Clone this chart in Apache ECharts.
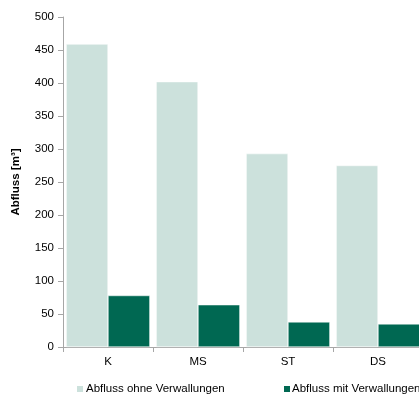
<!DOCTYPE html>
<html>
<head>
<meta charset="utf-8">
<script src="https://cdn.jsdelivr.net/npm/echarts@6/dist/echarts.min.js"></script>
<style>
  html, body { margin: 0; padding: 0; background: #fff; }
  #chart { width: 419px; height: 394px; }
</style>
</head>
<body>
<div id="chart"></div>
<script>
// Discharge per site, with and without embankments
const categories = ['K', 'MS', 'ST', 'DS'];
const ohneVerwallungen = [459, 402, 293, 275];
const mitVerwallungen = [78, 64, 38, 35];
const seriesNames = ['Abfluss ohne Verwallungen', 'Abfluss mit Verwallungen'];
const yTicks = { min: 0, max: 500, interval: 50 };

const font = 'Liberation Sans, Arial, sans-serif';
const axisGrey = '#a6a6a6';
const fs = 11.5;

const chart = echarts.init(document.getElementById('chart'), null, { renderer: 'canvas' });
chart.setOption({
  animation: false,
  textStyle: { fontFamily: font },
  grid: { left: 63, top: 17, width: 360, height: 330, containLabel: false, outerBoundsMode: 'none' },
  legend: [
    {
      data: [seriesNames[0]],
      left: 75, top: 383,
      itemWidth: 8, itemHeight: 8, itemGap: 0,
      icon: 'rect',
      textStyle: { fontFamily: font, fontSize: fs, color: '#000', padding: [0, 0, 0, -3] },
      padding: 0
    },
    {
      data: [seriesNames[1]],
      left: 282, top: 383,
      itemWidth: 8, itemHeight: 8, itemGap: 0,
      icon: 'rect',
      textStyle: { fontFamily: font, fontSize: fs, color: '#000', padding: [0, 0, 0, -4] },
      padding: 0
    }
  ],
  xAxis: {
    type: 'category',
    data: categories,
    axisLine: { lineStyle: { color: axisGrey, width: 1 } },
    axisTick: { show: true, alignWithLabel: false, length: 5, lineStyle: { color: axisGrey } },
    axisLabel: { color: '#000', fontSize: fs, fontFamily: font, margin: 9 },
    splitLine: { show: false }
  },
  yAxis: {
    type: 'value',
    min: yTicks.min, max: yTicks.max, interval: yTicks.interval,
    name: 'Abfluss [m³]',
    nameLocation: 'middle',
    nameGap: 41,
    nameRotate: 90,
    nameTextStyle: { fontFamily: font, fontSize: fs, fontWeight: 'bold', color: '#000' },
    axisLine: { show: true, lineStyle: { color: axisGrey, width: 1 } },
    axisTick: { show: true, length: 5, lineStyle: { color: axisGrey } },
    axisLabel: { color: '#000', fontSize: fs, fontFamily: font, margin: 9 },
    splitLine: { show: false }
  },
  series: [
    {
      name: seriesNames[0],
      type: 'bar',
      data: ohneVerwallungen,
      barGap: '0%',
      barCategoryGap: '7%',
      itemStyle: { color: '#cce1dc', borderColor: '#ffffff', borderWidth: 0.5 }
    },
    {
      name: seriesNames[1],
      type: 'bar',
      data: mitVerwallungen,
      itemStyle: { color: '#006852', borderColor: '#ffffff', borderWidth: 0.5 }
    }
  ]
});
</script>
</body>
</html>
